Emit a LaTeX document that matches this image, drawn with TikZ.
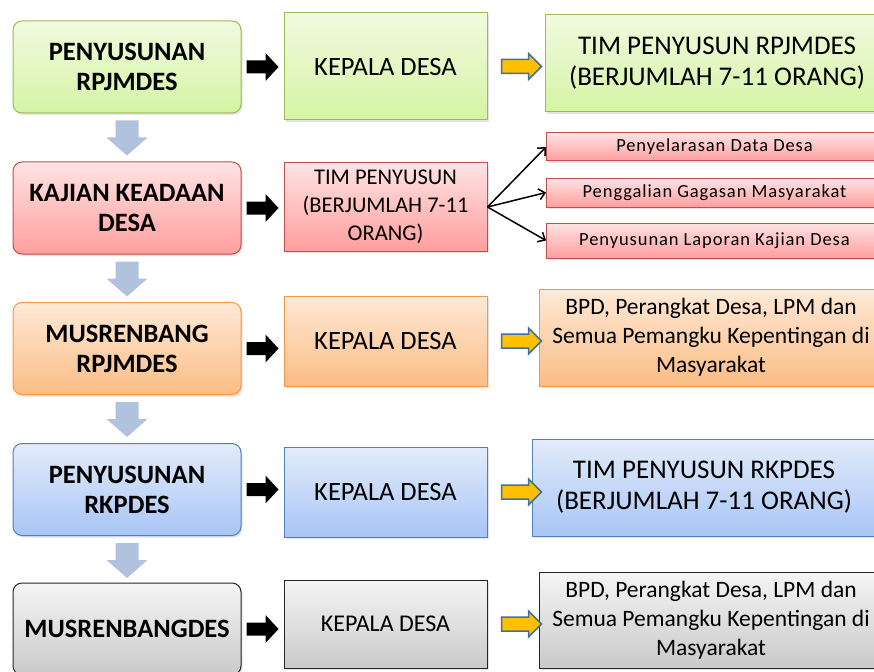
\documentclass[tikz,border=0pt]{standalone}
\usepackage{fontspec}
\setmainfont{Carlito}
\newfontfamily\spacedfont[LetterSpace=5]{Carlito}
\usetikzlibrary{calc,arrows.meta,shadows}

\definecolor{grnTop}{HTML}{F1FADF}
\definecolor{grnBot}{HTML}{D5F4A4}
\definecolor{grnLine}{HTML}{9BBB59}
\definecolor{redTop}{HTML}{FFE3E3}
\definecolor{redBot}{HTML}{FF9E9E}
\definecolor{redLine}{HTML}{C0504D}
\definecolor{orgTop}{HTML}{FFE9D6}
\definecolor{orgBot}{HTML}{FBBD85}
\definecolor{orgLine}{HTML}{F79646}
\definecolor{bluTop}{HTML}{E3ECFA}
\definecolor{bluBot}{HTML}{A8C5F6}
\definecolor{bluLine}{HTML}{4F81BD}
\definecolor{gryTop}{HTML}{F5F5F5}
\definecolor{gryBot}{HTML}{C9C9C9}
\definecolor{gryLine}{HTML}{262626}
\definecolor{downblue}{HTML}{B0C2DD}
\definecolor{arrowgold}{HTML}{FFC000}
\definecolor{arrowblue}{HTML}{41719C}

\tikzset{
  boxshadow/.style={drop shadow={opacity=0.22,shadow xshift=1.5pt,shadow yshift=-2pt}},
  stage/.style={draw, rounded corners=9pt, line width=1pt, minimum width=228pt,
    minimum height=92pt, align=center, boxshadow,
    font=\fontsize{26.5}{30}\selectfont\bfseries},
  actor/.style={draw, line width=1pt, minimum width=203pt, align=center, boxshadow,
    font=\fontsize{26.5}{30}\selectfont},
  result/.style={draw, line width=1pt, minimum width=344pt, minimum height=97pt,
    align=center, boxshadow, font=\fontsize{23.5}{29}\selectfont},
  task/.style={draw, line width=1pt, minimum width=336pt, align=center, boxshadow,
    font=\spacedfont\fontsize{18.5}{20}\selectfont},
  green/.style={top color=grnTop, bottom color=grnBot, draw=grnLine},
  red/.style={top color=redTop, bottom color=redBot, draw=redLine},
  orange/.style={top color=orgTop, bottom color=orgBot, draw=orgLine},
  blue/.style={top color=bluTop, bottom color=bluBot, draw=bluLine},
  gray/.style={top color=gryTop, bottom color=gryBot, draw=gryLine},
  fan/.style={line width=1.5pt, -{Straight Barb[length=6pt,width=11pt]}},
  pics/blackarrow/.style={code={
    \fill[black] (0,-6.5) -- (19,-6.5) -- (19,-14) -- (32,0) -- (19,14) -- (19,6.5) -- (0,6.5) -- cycle;}},
  pics/downarrow/.style={code={
    \fill[downblue] (-11.5,0) -- (11.5,0) -- (11.5,17) -- (20.5,17) -- (0,35) -- (-20.5,17) -- (-11.5,17) -- cycle;}},
  pics/goldarrow/.style={code={
    \filldraw[fill=arrowgold, draw=arrowblue, line width=1.5pt] (0,-7) -- (27,-7) -- (27,-13) -- (40,0) -- (27,13) -- (27,7) -- (0,7) -- cycle;}},
}

\begin{document}
\begin{tikzpicture}[x=1pt,y=-1pt]
  \useasboundingbox (0,0) rectangle (874,671);
  \clip (0,0) rectangle (874,671);
  \fill[white] (0,0) rectangle (874,671);

  % stages
  \node[stage, green]  (s1) at (127,67)    {PENYUSUNAN\\RPJMDES};
  \node[stage, red]    (s2) at (127,208)   {KAJIAN KEADAAN\\DESA};
  \node[stage, orange] (s3) at (127,348.5) {MUSRENBANG\\RPJMDES};
  \node[stage, blue]   (s4) at (127,489.5) {PENYUSUNAN\\RKPDES};
  \node[stage, gray]   (s5) at (127,629)   {MUSRENBANGDES};

  % who does it
  \node[actor, green, minimum height=107pt]  (m1) at (385.5,66.5) {KEPALA DESA};
  \node[actor, red, minimum height=88pt, font=\fontsize{22.5}{28}\selectfont] (m2) at (385.5,207)
    {TIM PENYUSUN\\(BERJUMLAH 7-11\\ORANG)};
  \node[actor, orange, minimum height=90pt]  (m3) at (385.5,341)  {KEPALA DESA};
  \node[actor, blue, minimum height=90pt]    (m4) at (385.5,492)  {KEPALA DESA};
  \node[actor, gray, minimum height=88pt, font=\fontsize{24}{28}\selectfont] (m5) at (385.5,624) {KEPALA DESA};

  % results
  \node[result, green, font=\fontsize{27}{31}\selectfont] (r1) at (717,63.5)
    {TIM PENYUSUN RPJMDES\\(BERJUMLAH 7-11 ORANG)};
  \node[task, red, minimum height=28pt] (t1) at (714.5,147)   {Penyelarasan Data Desa};
  \node[task, red, minimum height=29pt] (t2) at (714.5,192.5) {Penggalian Gagasan Masyarakat};
  \node[task, red, minimum height=35pt] (t3) at (714.5,240.5) {Penyusunan Laporan Kajian Desa};
  \node[result, orange] (r3) at (711,337.5)
    {BPD, Perangkat Desa, LPM dan\\Semua Pemangku Kepentingan di\\Masyarakat};
  \node[result, blue, font=\fontsize{27}{31}\selectfont] (r4) at (704,487.5)
    {TIM PENYUSUN RKPDES\\(BERJUMLAH 7-11 ORANG)};
  \node[result, gray, minimum height=96pt] (r5) at (711,620)
    {BPD, Perangkat Desa, LPM dan\\Semua Pemangku Kepentingan di\\Masyarakat};

  % arrows down the left column
  \foreach \a in {1,...,4}
    \pic at ($(s\a.south)+(0,7)$) {downarrow};

  % black arrows to the actors
  \foreach \a in {1,...,5}
    \pic at ($(s\a.east)+(5,0)$) {blackarrow};

  % gold arrows to the results
  \foreach \a in {1,3,4,5}
    \pic at ($(m\a.east)+(14,0)$) {goldarrow};

  \draw[fan] (m2.east) -- (t1.west);
  \draw[fan] (m2.east) -- (t2.west);
  \draw[fan] (m2.east) -- (t3.west);
\end{tikzpicture}
\end{document}
